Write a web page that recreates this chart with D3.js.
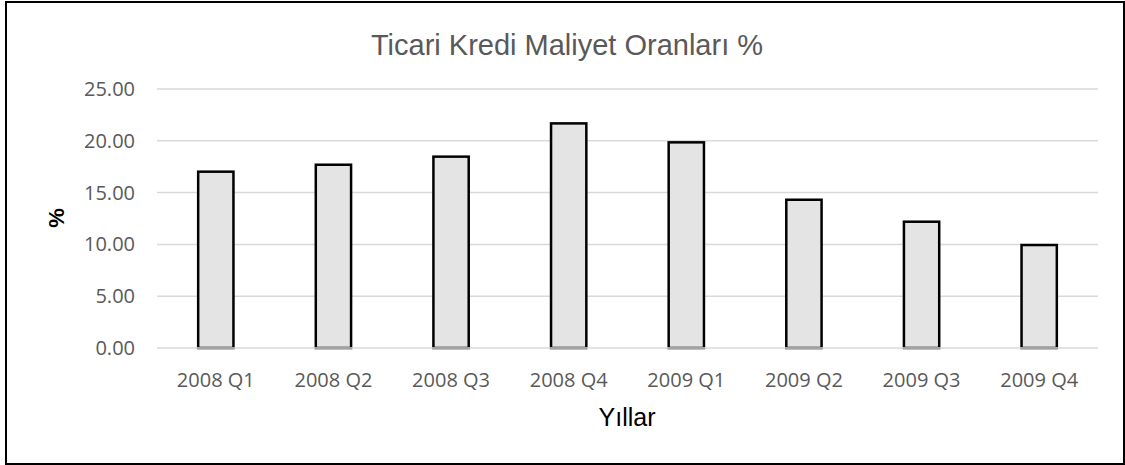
<!DOCTYPE html>
<html>
<head>
<meta charset="utf-8">
<script src="https://cdn.jsdelivr.net/npm/d3@7"></script>
<style>
  body { margin: 0; background: #fff; }
</style>
</head>
<body>
<script>
// chart data
const quarters = ["2008 Q1", "2008 Q2", "2008 Q3", "2008 Q4", "2009 Q1", "2009 Q2", "2009 Q3", "2009 Q4"];
const rates = [17.02, 17.69, 18.47, 21.68, 19.85, 14.31, 12.19, 9.94];
const yTicks = [0, 5, 10, 15, 20, 25];

const width = 1125;
const height = 465;
const margin = { left: 157, right: 27, top: 89, bottom: 117 }; // plot from x 157..1098, y 89..348

const svg = d3.select("body").append("svg")
              .attr("width", width)
              .attr("height", height);

// outer frame
svg.append("rect")
   .attr("x", 6).attr("y", 2)
   .attr("width", width - 7).attr("height", height - 3)
   .attr("fill", "none")
   .attr("stroke", "#000")
   .attr("stroke-width", 2);

const x = d3.scaleBand()
            .domain(quarters)
            .range([margin.left, width - margin.right])
            .padding(0);

const y = d3.scaleLinear()
            .domain([0, 25])
            .range([height - margin.bottom, margin.top]);

// gridlines
svg.selectAll(".grid")
   .data(yTicks.filter(d => d > 0))
   .enter().append("line")
   .attr("x1", margin.left).attr("x2", width - margin.right)
   .attr("y1", d => y(d)).attr("y2", d => y(d))
   .attr("stroke", "#d9d9d9")
   .attr("stroke-width", 1.5);

// y tick labels
svg.selectAll(".ylab")
   .data(yTicks)
   .enter().append("text")
   .attr("x", 135)
   .attr("y", d => y(d))
   .attr("dy", "0.35em")
   .attr("text-anchor", "end")
   .attr("font-family", "'Open Sans', sans-serif")
   .attr("font-size", 20)
   .attr("fill", "#595959")
   .text(d => d.toFixed(2));

// bars
const barW = x.bandwidth() * 0.3;
svg.selectAll(".bar")
   .data(rates)
   .enter().append("rect")
   .attr("x", (d, i) => x(quarters[i]) + x.bandwidth() / 2 - barW / 2)
   .attr("y", d => y(d))
   .attr("width", barW)
   .attr("height", d => y(0) - y(d))
   .attr("fill", "#e4e4e4")
   .attr("stroke", "#000")
   .attr("stroke-width", 2.5);

// category axis line
svg.append("line")
   .attr("x1", margin.left).attr("x2", width - margin.right)
   .attr("y1", y(0)).attr("y2", y(0))
   .attr("stroke", "#d9d9d9")
   .attr("stroke-width", 1.5);

// x tick labels
svg.selectAll(".xlab")
   .data(quarters)
   .enter().append("text")
   .attr("x", d => x(d) + x.bandwidth() / 2)
   .attr("y", 387)
   .attr("text-anchor", "middle")
   .attr("font-family", "'Open Sans', sans-serif")
   .attr("font-size", 20)
   .attr("fill", "#595959")
   .text(d => d);

// title
svg.append("text")
   .attr("x", 567).attr("y", 55)
   .attr("text-anchor", "middle")
   .attr("font-family", "'Liberation Sans', Arial, sans-serif")
   .attr("font-size", 29)
   .attr("fill", "#595959")
   .text("Ticari Kredi Maliyet Oranları %");

// axis titles
svg.append("text")
   .attr("x", 627).attr("y", 426)
   .attr("text-anchor", "middle")
   .attr("font-family", "'Liberation Sans', Arial, sans-serif")
   .attr("font-size", 25)
   .attr("fill", "#000")
   .text("Yıllar");

svg.append("text")
   .attr("transform", "translate(56,218) rotate(-90)")
   .attr("text-anchor", "middle")
   .attr("dy", "0.35em")
   .attr("font-family", "'Liberation Sans', Arial, sans-serif")
   .attr("font-weight", "bold")
   .attr("font-size", 22)
   .attr("fill", "#000")
   .text("%");
</script>
</body>
</html>
